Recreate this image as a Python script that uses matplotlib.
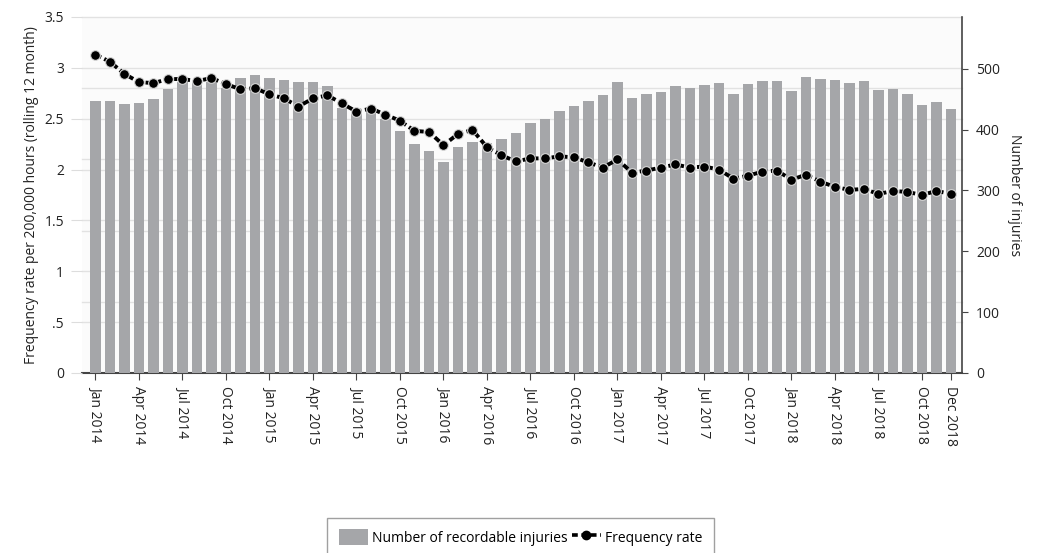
import matplotlib.pyplot as plt
from matplotlib.transforms import blended_transform_factory
from matplotlib.patches import Patch
from matplotlib.lines import Line2D

plt.rcParams['font.family'] = ['Open Sans', 'DejaVu Sans']

# monthly values, Jan 2014 .. Dec 2018
months = ['Jan', 'Feb', 'Mar', 'Apr', 'May', 'Jun',
          'Jul', 'Aug', 'Sep', 'Oct', 'Nov', 'Dec']
years = [2014, 2015, 2016, 2017, 2018]
labels = [f'{m} {y}' for y in years for m in months]

injuries = [447, 447, 442, 443, 451, 467, 478, 476, 479, 469, 484, 490,
            484, 481, 478, 478, 471, 436, 426, 430, 418, 398, 376, 364,
            347, 372, 379, 378, 384, 394, 411, 418, 430, 438, 447, 457,
            479, 452, 458, 461, 472, 469, 474, 476, 459, 475, 480, 480,
            464, 487, 483, 482, 477, 480, 465, 467, 459, 441, 445, 433]

freq_rate = [3.13, 3.06, 2.94, 2.86, 2.85, 2.89, 2.89, 2.87, 2.90, 2.84, 2.79, 2.80,
             2.74, 2.70, 2.62, 2.70, 2.73, 2.65, 2.57, 2.60, 2.54, 2.48, 2.38, 2.37,
             2.24, 2.35, 2.39, 2.22, 2.14, 2.08, 2.11, 2.11, 2.13, 2.12, 2.07, 2.02,
             2.10, 1.97, 1.99, 2.02, 2.05, 2.02, 2.03, 2.00, 1.91, 1.94, 1.98, 1.99,
             1.90, 1.95, 1.88, 1.83, 1.80, 1.81, 1.76, 1.79, 1.78, 1.75, 1.79, 1.76]

left_ticks = [0, 0.5, 1, 1.5, 2, 2.5, 3, 3.5]
left_ticklabels = ['0', '.5', '1', '1.5', '2', '2.5', '3', '3.5']
right_ticks = [0, 100, 200, 300, 400, 500]
extra_grid = [0.7, 1.4, 2.1, 2.8]

x = list(range(len(labels)))
shown = list(range(0, len(labels), 3)) + [len(labels) - 1]

fig = plt.figure(figsize=(10.41, 5.53), dpi=100)
pos = [82 / 1041, 1 - 373 / 553, 880 / 1041, 356 / 553]

ax_bar = fig.add_axes(pos)
ax_line = fig.add_axes(pos, sharex=ax_bar)
ax_line.patch.set_visible(False)

ax_bar.set_facecolor('#fbfbfb')
ax_bar.bar(x, injuries, width=0.74, color='#a5a6a9', zorder=3)
ax_bar.set_ylim(0, 585)
ax_bar.set_xlim(-0.93, 59.76)
ax_bar.yaxis.tick_right()
ax_bar.yaxis.set_label_position('right')
ax_bar.set_yticks(right_ticks)
ax_bar.tick_params(axis='y', length=4, color='#444444', labelsize=10,
                   labelcolor='#222222', pad=6)
ax_bar.set_ylabel('Number of injuries', rotation=270, labelpad=16,
                  fontsize=10, color='#222222')

ax_line.plot(x, freq_rate, color='black', lw=2.8, linestyle=(0, (1.6, 0.9)),
             marker='o', markersize=7, markerfacecolor='black',
             markeredgecolor='#d8d8d8', markeredgewidth=0.8, zorder=5)
ax_line.set_ylim(0, 3.5)
ax_line.set_yticks(left_ticks)
ax_line.set_yticklabels(left_ticklabels)
ax_line.tick_params(axis='y', length=8, color='#dddddd', labelsize=10,
                    labelcolor='#222222', pad=5)
ax_line.set_ylabel('Frequency rate per 200,000 hours (rolling 12 month)',
                   fontsize=10, color='#222222', labelpad=4)

# gridlines drawn behind the bars, in left-axis units
trans = blended_transform_factory(ax_bar.transAxes, ax_line.transData)
for v in left_ticks[1:] + extra_grid:
    ax_bar.plot([0, 1], [v, v], transform=trans, color='#e2e2e2', lw=1,
                zorder=1, clip_on=False)

ax_bar.set_xticks(shown)
ax_bar.set_xticklabels([labels[i] for i in shown], rotation=-90, fontsize=10,
                       color='#222222')
ax_bar.tick_params(axis='x', length=5, color='#444444', pad=4)
ax_line.tick_params(axis='x', bottom=False, labelbottom=False)

for a in (ax_bar, ax_line):
    a.spines['top'].set_visible(False)
    a.spines['left'].set_visible(False)
ax_line.spines['right'].set_visible(False)
ax_line.spines['bottom'].set_visible(False)
ax_bar.spines['right'].set_color('#444444')
ax_bar.spines['bottom'].set_color('#444444')
ax_bar.spines['bottom'].set_linewidth(1.5)
ax_bar.spines['right'].set_linewidth(1.2)

handles = [Patch(facecolor='#a5a6a9', edgecolor='none'),
           Line2D([], [], color='black', lw=2.6, linestyle=(0, (1.6, 1.0)),
                  marker='o', markersize=6, markerfacecolor='black')]
fig.legend(handles, ['Number of recordable injuries', 'Frequency rate'],
           loc='upper center', bbox_to_anchor=(0.5, 1 - 511 / 553), ncol=2,
           fontsize=10, frameon=True, fancybox=False, edgecolor='#888888',
           handlelength=2.1, handleheight=1.4, handletextpad=0.3,
           columnspacing=0.3, borderpad=0.8, numpoints=1)

fig.savefig('out.png', dpi=100)
